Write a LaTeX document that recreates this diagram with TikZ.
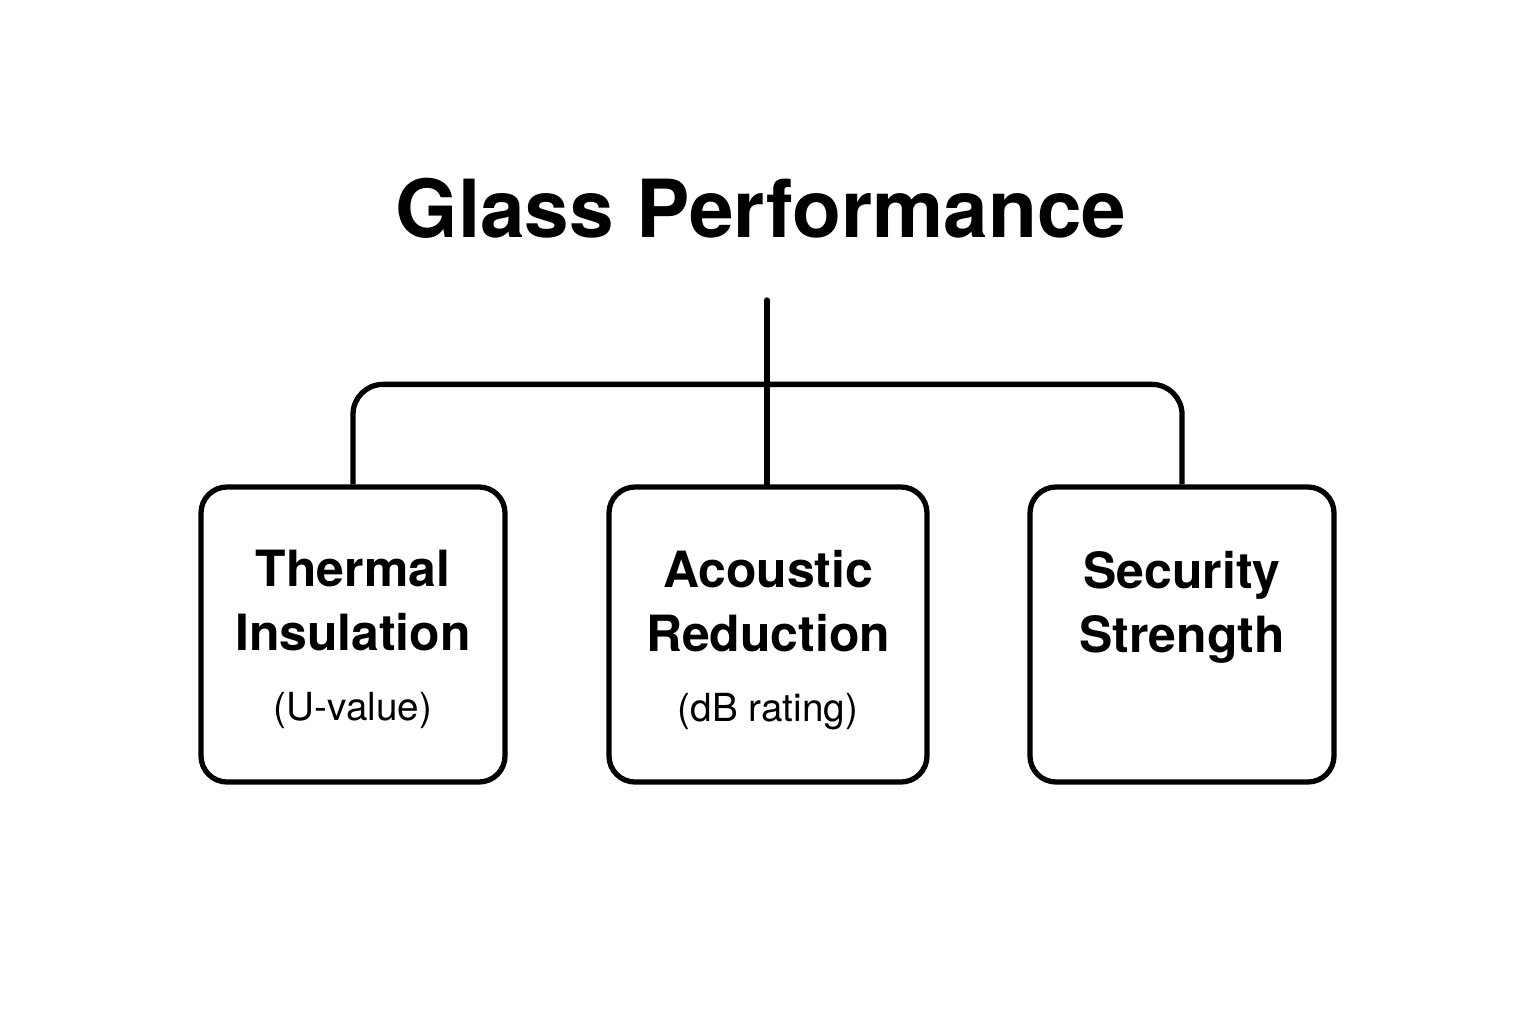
\documentclass[tikz,border=0pt]{standalone}
\usepackage{fontspec}
\setmainfont{TeX Gyre Heros}
\usetikzlibrary{positioning}
\tikzset{
	panel/.style={draw, line width=1.5pt, rounded corners=0.26cm, minimum height=2.95cm},
	heading/.style={font=\bfseries\fontsize{14.2}{18.2}\selectfont, align=center, inner sep=0pt},
	note/.style={font=\fontsize{11}{13}\selectfont, inner sep=0pt},
	link/.style={line width=1.5pt}
}
\begin{document}
\begin{tikzpicture}
	\useasboundingbox (0,0) rectangle (15.36,10.24);
	%title
		\node[anchor=base, inner sep=0pt, font=\bfseries\fontsize{22.8}{27}\selectfont] (title) at (7.61,7.86) {Glass Performance};
	%boxes
		\node[panel, minimum width=3.04cm] (thermal) at (3.53,3.895) {};
		\node[panel, minimum width=3.18cm] (acoustic) at (7.68,3.895) {};
		\node[panel, minimum width=3.04cm] (security) at (11.82,3.895) {};
	%box texts
		\node[heading, below=0.65cm of thermal.north] (thermalhead) {Thermal\\Insulation};
		\node[note, below=0.4cm of thermalhead] (thermalnote) {(U-value)};
		\node[heading, below=0.65cm of acoustic.north] (acoustichead) {Acoustic\\Reduction};
		\node[note, below=0.4cm of acoustichead] (acousticnote) {(dB rating)};
		\node[heading, below=0.66cm of security.north] (securityhead) {Security\\Strength};
	%connectors
		\coordinate (stem) at (7.67,7.24);
		\draw[link, line cap=round] (stem) -- (stem |- acoustic.north);
		\draw[link, rounded corners=0.3cm] (thermal.north) -- ++(0,1) -| (security.north);
\end{tikzpicture}
\end{document}
